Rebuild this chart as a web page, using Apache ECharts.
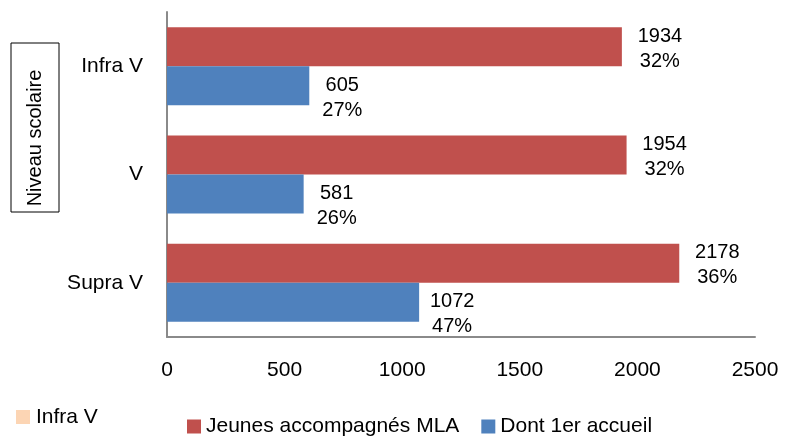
<!DOCTYPE html>
<html>
<head>
<meta charset="utf-8">
<script src="https://cdn.jsdelivr.net/npm/echarts@6/dist/echarts.min.js"></script>
<style>
  html, body { margin: 0; padding: 0; background: #fff; }
  #chart { width: 797px; height: 438px; }
</style>
</head>
<body>
<div id="chart"></div>
<script>
// niveaux scolaires (de haut en bas)
const categories = ['Infra V', 'V', 'Supra V'];
const seriesNames = ['Jeunes accompagnés MLA', 'Dont 1er accueil'];
const mlaValues = [1934, 1954, 2178];
const mlaPct = [32, 32, 36];
const accueilValues = [605, 581, 1072];
const accueilPct = [27, 26, 47];
const xTicks = [0, 500, 1000, 1500, 2000, 2500];

const font = "'Liberation Sans Narrow', 'Arial Narrow', 'Liberation Sans', Arial, sans-serif";

function labelFor(pcts) {
  return function (p) {
    return '{v|' + p.value + '}\n{v|' + pcts[p.dataIndex] + '%}';
  };
}

const chart = echarts.init(document.getElementById('chart'));

const option = {
  animation: false,
  textStyle: { fontFamily: font, color: '#000' },
  grid: { left: 167, right: 42, top: 12, bottom: 101, containLabel: false },
  legend: {
    data: seriesNames,
    left: 182,
    top: 411,
    itemWidth: 14,
    itemHeight: 14,
    itemGap: 22,
    icon: 'rect',
    textStyle: { fontSize: 21, fontFamily: font, color: '#000' }
  },
  xAxis: {
    type: 'value',
    min: xTicks[0],
    max: xTicks[xTicks.length - 1],
    interval: 500,
    axisLine: { show: true, lineStyle: { color: '#8a8a8a', width: 2 } },
    axisTick: { show: false },
    splitLine: { show: false },
    axisLabel: {
      fontSize: 21, fontFamily: font, color: '#000', margin: 23,
      formatter: function (v) { return String(v); }
    }
  },
  yAxis: {
    type: 'category',
    data: categories,
    inverse: true,
    axisLine: { show: true, lineStyle: { color: '#8a8a8a', width: 2 } },
    axisTick: { show: false },
    axisLabel: { fontSize: 21, fontFamily: font, color: '#000', margin: 24 }
  },
  series: [
    {
      name: seriesNames[0],
      type: 'bar',
      data: mlaValues,
      barWidth: 39,
      barGap: '0%',
      itemStyle: { color: '#C0504D' },
      label: {
        show: true,
        position: 'right',
        distance: 16,
        offset: [0, 2],
        formatter: labelFor(mlaPct),
        lineHeight: 25,
        rich: { v: { fontSize: 20, fontFamily: font, color: '#000', width: 44, align: 'center', lineHeight: 25 } }
      }
    },
    {
      name: seriesNames[1],
      type: 'bar',
      data: accueilValues,
      barWidth: 39,
      barGap: '0%',
      itemStyle: { color: '#4F81BD' },
      label: {
        show: true,
        position: 'right',
        distance: 11,
        offset: [0, 12],
        formatter: labelFor(accueilPct),
        lineHeight: 25,
        rich: { v: { fontSize: 20, fontFamily: font, color: '#000', width: 44, align: 'center', lineHeight: 25 } }
      }
    }
  ],
  graphic: [
    {
      type: 'rect',
      shape: { x: 11, y: 43, width: 48, height: 169 },
      style: { fill: '#fff', stroke: '#000', lineWidth: 1 }
    },
    {
      type: 'text',
      x: 35,
      y: 138,
      rotation: Math.PI / 2,
      style: {
        text: 'Niveau scolaire',
        font: '20px ' + font,
        fill: '#000',
        align: 'center',
        verticalAlign: 'middle'
      }
    },
    // fragment de légende d'un graphique voisin
    {
      type: 'rect',
      shape: { x: 16, y: 410, width: 14, height: 14 },
      style: { fill: '#FCD5B4' }
    },
    {
      type: 'text',
      x: 36,
      y: 417,
      style: {
        text: 'Infra V',
        font: '21px ' + font,
        fill: '#000',
        align: 'left',
        verticalAlign: 'middle'
      }
    }
  ]
};

chart.setOption(option);
</script>
</body>
</html>
